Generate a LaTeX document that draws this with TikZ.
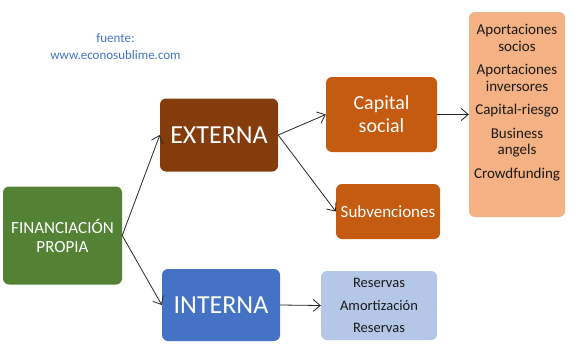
\documentclass[tikz,border=0pt]{standalone}
\usepackage{fontspec}
\setmainfont{Carlito}
\usetikzlibrary{arrows.meta}
\definecolor{cgreen}{HTML}{548235}
\definecolor{cbrown}{HTML}{843C0C}
\definecolor{corange}{HTML}{C55A11}
\definecolor{cpeach}{HTML}{F4B183}
\definecolor{cblue}{HTML}{4472C4}
\definecolor{clblue}{HTML}{B4C7E7}
\definecolor{ctext}{HTML}{4472C4}
\tikzset{
  box/.style={rounded corners=6pt, inner sep=0pt, align=center, draw=none},
  arr/.style={-{Straight Barb[length=7pt,width=12pt]}, line width=0.8pt, black!85},
}
\begin{document}
\begin{tikzpicture}[x=1pt,y=-1pt]
\useasboundingbox (0,0) rectangle (578,359);
\node[text=ctext, font=\fontsize{13}{17}\selectfont, align=center] (src) at (115.5,46.5) {fuente:\\www.econosublime.com};
\node[box, fill=cgreen, minimum width=119pt, minimum height=98pt, text=white, font=\fontsize{17}{19}\selectfont] (fin) at (62.5,235.5) {FINANCIACIÓN\\PROPIA};
\node[box, fill=cbrown, minimum width=118pt, minimum height=73pt, text=white, font=\fontsize{26}{28}\selectfont] (ext) at (219,135) {EXTERNA};
\node[box, fill=cblue, minimum width=118pt, minimum height=72pt, text=white, font=\fontsize{26}{28}\selectfont] (int) at (221,305) {INTERNA};
\node[box, fill=corange, minimum width=111pt, minimum height=75pt, text=white, font=\fontsize{20}{23}\selectfont] (cap) at (381.5,114.5) {Capital\\social};
\node[box, fill=corange, minimum width=104pt, minimum height=55pt, text=white, font=\fontsize{17}{20}\selectfont] (sub) at (388,211.5) {Subvenciones};
\node[box, fill=cpeach, minimum width=96pt, minimum height=205pt] (peach) at (517,114.5) {};
\node[align=center, inner sep=0pt, text=black!90, font=\fontsize{15}{16.5}\selectfont] (plist) at (517,102.5) {Aportaciones\\socios\\[7pt]Aportaciones\\inversores\\[7pt]Capital-riesgo\\[7pt]Business\\angels\\[7pt]Crowdfunding};
\node[box, fill=clblue, minimum width=116pt, minimum height=69pt, text=black!90, font=\fontsize{14.5}{22.5}\selectfont] (res) at (379,305.5) {Reservas\\Amortización\\Reservas};
\draw[arr] (fin.east) -- (ext.west);
\draw[arr] (fin.east) -- (int.west);
\draw[arr] (ext.east) -- (cap.west);
\draw[arr] (ext.east) -- (sub.west);
\draw[arr] (cap.east) -- (peach.west);
\draw[arr] (int.east) -- (res.west);
\end{tikzpicture}
\end{document}
